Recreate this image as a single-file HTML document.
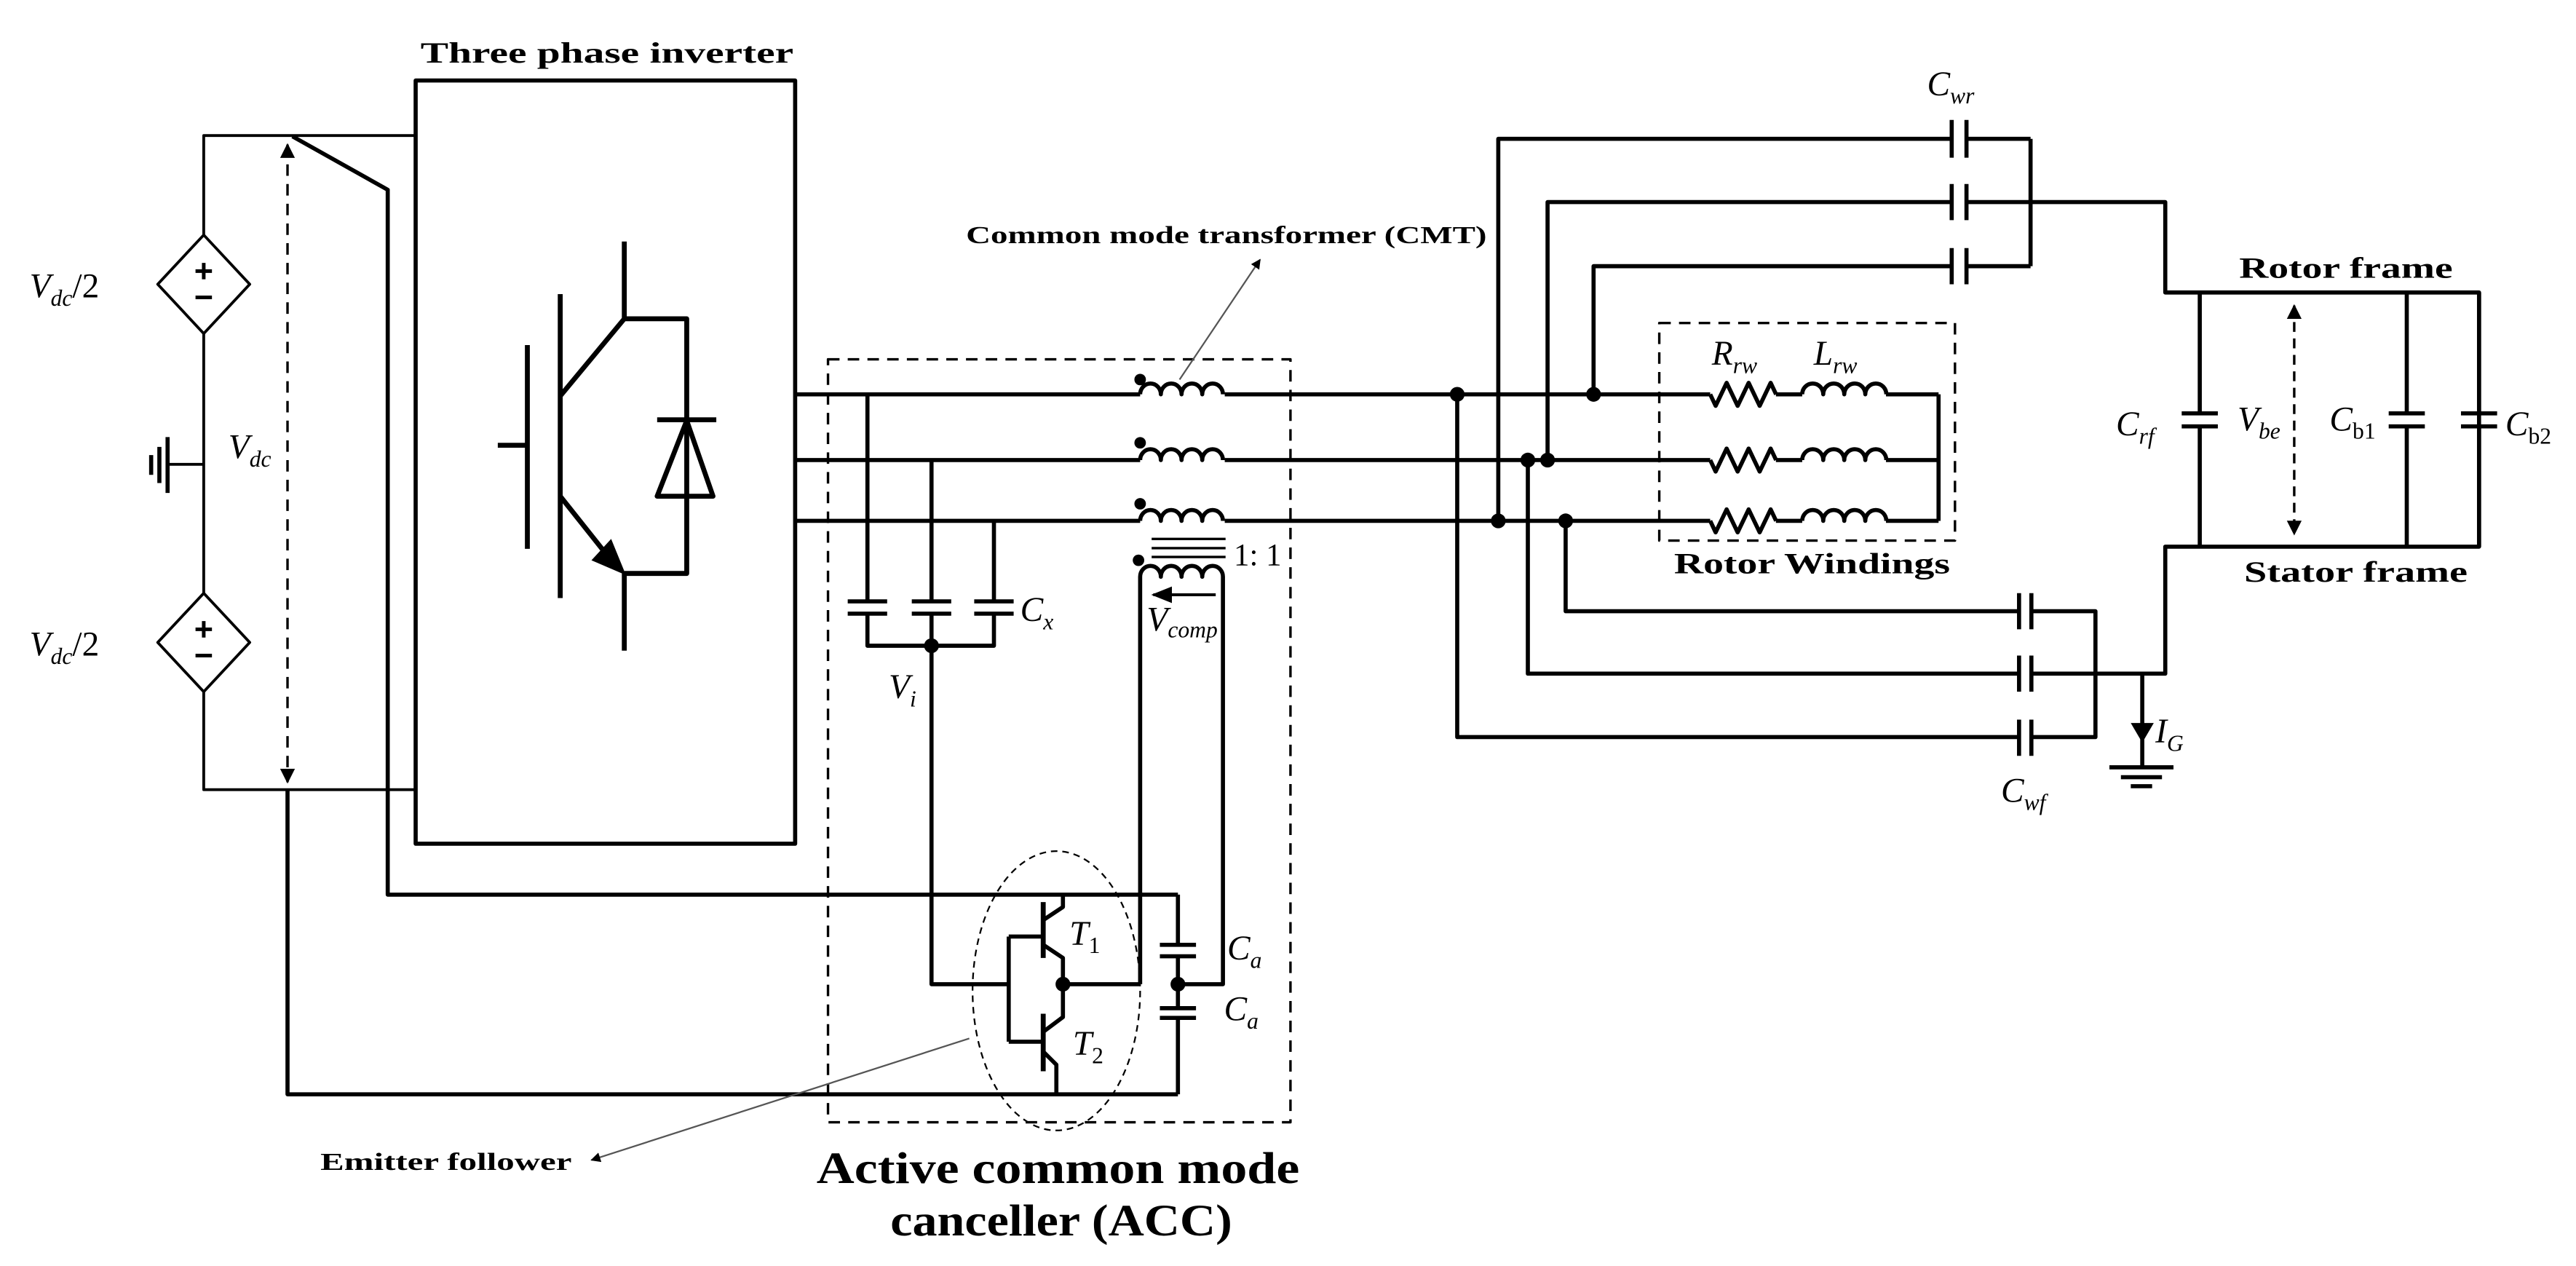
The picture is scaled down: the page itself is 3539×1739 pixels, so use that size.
<!DOCTYPE html>
<html><head><meta charset="utf-8"><style>
html,body{margin:0;padding:0;background:#fff;}
svg{display:block;}
text{font-family:"Liberation Serif",serif;fill:#000;}
.m{font-style:italic;font-size:21px;}
.s{font-size:14px;}
.b{font-weight:bold;}
</style></head><body>
<svg width="3539" height="1739" viewBox="0 0 1568 770.5" xmlns="http://www.w3.org/2000/svg">
<defs>
<marker id="ah" viewBox="0 0 10 10" refX="9" refY="5" markerWidth="6" markerHeight="6" orient="auto-start-reverse"><path d="M0,0 L10,5 L0,10 z" fill="#000"/></marker>
<marker id="ah2" viewBox="0 0 10 10" refX="9" refY="5" markerWidth="7" markerHeight="7" orient="auto"><path d="M0,1 L10,5 L0,9 z" fill="#000"/></marker>
</defs>
<g fill="none" stroke="#000" stroke-width="2.5" stroke-linejoin="round">
<path stroke-width="1.7" d="M253,82.5 H124 V143 M124,203 V361 M124,421 V480.6 H253"/>
<path stroke-width="1.7" d="M124,143 L152,173 L124,203 L96,173 Z M124,361 L152,391 L124,421 L96,391 Z"/>
<path stroke-width="1.7" d="M102,282.6 H124"/>
<path stroke-width="2.5" d="M102,266 V300 M97,272 V294 M92,277 V289"/>
<path stroke-width="2.2" d="M124,160 V170 M119,165 H129 M119,181 H129 M124,378 V388 M119,383 H129 M119,399 H129"/>
<path stroke-width="1.5" stroke-dasharray="7,5" d="M175,88 V476" marker-start="url(#ah)" marker-end="url(#ah)"/>
<rect x="253" y="49" width="231" height="464.5" stroke-width="2.5"/>
<path d="M178,83 L236,115.5 V544.5 H717"/>
<path d="M175,480.6 V666 H717"/>
<path stroke-width="3" d="M303,271 H321 M321,210 V334 M341,179 V364 M341,241 L380,194 V147 M380,194 H418 V349 H380 M341,302 L372,341 M380,349 V396 M400,255.5 H436"/>
<path stroke-width="3" d="M400,302 H434 L418,256 Z"/>
<path fill="#000" stroke="none" d="M381,350 L360,341 L372,328 Z"/>
<!-- phases -->
<path d="M484,240 H694 M745.5,240 H1041 M484,280 H694 M745.5,280 H1041 M484,317 H694 M745.5,317 H1041 M1081,240 H1097 M1081,280 H1097 M1081,317 H1097 M1148,240 H1180 M1148,280 H1180 M1148,317 H1180 M1180,240 V317"/>
<path d="M694,240 a6.3,6.6 0 0 1 12.6,0 a6.3,6.6 0 0 1 12.6,0 a6.3,6.6 0 0 1 12.6,0 a6.3,6.6 0 0 1 12.6,0 M694,280 a6.3,6.6 0 0 1 12.6,0 a6.3,6.6 0 0 1 12.6,0 a6.3,6.6 0 0 1 12.6,0 a6.3,6.6 0 0 1 12.6,0 M694,317 a6.3,6.6 0 0 1 12.6,0 a6.3,6.6 0 0 1 12.6,0 a6.3,6.6 0 0 1 12.6,0 a6.3,6.6 0 0 1 12.6,0"/>
<path stroke-width="1.5" d="M701,328 H746 M701,333.6 H746 M701,339 H746"/>
<path d="M694,599 V351 a6.3,6.6 0 0 1 12.6,0 a6.3,6.6 0 0 1 12.6,0 a6.3,6.6 0 0 1 12.6,0 a6.3,6.6 0 0 1 12.6,0 V599 H717"/>
<path stroke-width="1.8" d="M740,362 H702" marker-end="url(#ah2)"/>
<path d="M528,240 V366 M567,280 V366 M605,317 V366 M528,373.5 V393 H605 V373.5 M567,373.5 V599 H614"/>
<path d="M516,366 H540 M516,373.5 H540 M555,366 H579 M555,373.5 H579 M593,366 H617 M593,373.5 H617"/>
<path d="M614,570 V634 M614,570 H635 M614,634 H635 M647,544.5 V552 L635,560 M635,575 L647,583 V619 L635,628 M635,640 L643,648 V666 M647,599 H694"/>
<path stroke-width="3" d="M635,549 V583 M635,617 V652"/>
<path d="M717,544.5 V575 M717,582 V613.6 M717,619.5 V666 M706,575 H728 M706,582 H728 M706,613.6 H728 M706,619.5 H728"/>
<ellipse cx="643" cy="603" rx="51" ry="85" stroke-width="1" stroke-dasharray="4,3"/>
<rect x="504" y="218.7" width="281.5" height="464.3" stroke-width="1.5" stroke-dasharray="7,5"/>
<path stroke="#555" stroke-width="1" d="M718,231 L767,158" marker-end="url(#ah)"/>
<path stroke="#555" stroke-width="1" d="M590,632 L360,706" marker-end="url(#ah)"/>
<path d="M912,317 V84.5 H1188 M1197,84.5 H1236 M942,280 V123 H1188 M1197,123 H1318 V178 H1509 V332.7 H1318 V410 H1236 M970,240 V162 H1188 M1197,162 H1236 M1236,84.5 V162"/>
<path d="M1188,73 V96 M1197,73 V96 M1188,112 V134 M1197,112 V134 M1188,151 V173 M1197,151 V173"/>
<path d="M953,317 V372 H1229 M1236.5,372 H1275.5 V448.6 H1236.5 M930,280 V410 H1229 M887,240 V448.6 H1229"/>
<path d="M1229,361 V383 M1236.5,361 V383 M1229,399 V421 M1236.5,399 V421 M1229,438 V460 M1236.5,438 V460"/>
<path d="M1339,178 V251.6 M1339,259.5 V332.7 M1465,178 V251.6 M1465,259.5 V332.7 M1509,178 V251.6 M1509,259.5 V332.7"/>
<path d="M1328,251.6 H1350 M1328,259.5 H1350 M1454,251.6 H1476 M1454,259.5 H1476 M1498,251.6 H1520 M1498,259.5 H1520"/>
<path stroke-width="1.5" stroke-dasharray="6,4" d="M1396.5,186 V325" marker-start="url(#ah)" marker-end="url(#ah)"/>
<path d="M1304,410 V467"/>
<path fill="#000" stroke="none" d="M1297,440 H1311 L1304,452 Z"/>
<path d="M1284,467 H1323 M1291,473 H1316 M1297,478.5 H1310"/>
<!-- resistors -->
<path d="M1041,240 l3.3,7 l6.7,-14 l6.7,14 l6.7,-14 l6.7,14 l6.7,-14 l3.3,7 M1041,280 l3.3,7 l6.7,-14 l6.7,14 l6.7,-14 l6.7,14 l6.7,-14 l3.3,7 M1041,317 l3.3,7 l6.7,-14 l6.7,14 l6.7,-14 l6.7,14 l6.7,-14 l3.3,7"/>
<path d="M1097,240 a6.4,6.6 0 0 1 12.8,0 a6.4,6.6 0 0 1 12.8,0 a6.4,6.6 0 0 1 12.8,0 a6.4,6.6 0 0 1 12.8,0 M1097,280 a6.4,6.6 0 0 1 12.8,0 a6.4,6.6 0 0 1 12.8,0 a6.4,6.6 0 0 1 12.8,0 a6.4,6.6 0 0 1 12.8,0 M1097,317 a6.4,6.6 0 0 1 12.8,0 a6.4,6.6 0 0 1 12.8,0 a6.4,6.6 0 0 1 12.8,0 a6.4,6.6 0 0 1 12.8,0"/>
<rect x="1010" y="196.6" width="180" height="132.4" stroke-width="1.5" stroke-dasharray="7,5"/>
</g>
<g fill="#000">
<circle cx="567" cy="393" r="4.5"/><circle cx="647" cy="599" r="4.5"/><circle cx="717" cy="599" r="4.5"/>
<circle cx="694" cy="231" r="3.5"/><circle cx="694" cy="269.5" r="3.5"/><circle cx="694" cy="306.6" r="3.5"/><circle cx="693" cy="341" r="3.5"/>
<circle cx="887" cy="240" r="4.5"/><circle cx="970" cy="240" r="4.5"/><circle cx="930" cy="280" r="4.5"/><circle cx="942" cy="280" r="4.5"/><circle cx="912" cy="317" r="4.5"/><circle cx="953" cy="317" r="4.5"/>
</g>
<text class="b" x="256" y="38" font-size="18" textLength="227" lengthAdjust="spacingAndGlyphs">Three phase inverter</text>
<text class="m" x="18" y="181" font-size="23">V<tspan class="s" dy="5" font-size="15">dc</tspan><tspan dy="-5" font-style="normal">/2</tspan></text>
<text class="m" x="18" y="399" font-size="23">V<tspan class="s" dy="5" font-size="15">dc</tspan><tspan dy="-5" font-style="normal">/2</tspan></text>
<text class="m" x="139" y="279" font-size="19">V<tspan class="s" dy="5">dc</tspan></text>
<text class="b" x="588" y="148" font-size="15" textLength="317" lengthAdjust="spacingAndGlyphs">Common mode transformer (CMT)</text>
<text x="751" y="344" font-size="19">1: 1</text>
<text class="m" x="698" y="384" font-size="17">V<tspan class="s" font-size="12" dy="4">comp</tspan></text>
<text class="m" x="621" y="378">C<tspan class="s" dy="5">x</tspan></text>
<text class="m" x="541" y="425">V<tspan class="s" dy="5">i</tspan></text>
<text class="m" x="651" y="575" font-size="20">T<tspan class="s" dy="5" font-style="normal">1</tspan></text>
<text class="m" x="653" y="642" font-size="20">T<tspan class="s" dy="5" font-style="normal">2</tspan></text>
<text class="m" x="747" y="584">C<tspan class="s" dy="5">a</tspan></text>
<text class="m" x="745" y="621">C<tspan class="s" dy="5">a</tspan></text>
<text class="b" x="195" y="712" font-size="15" textLength="153" lengthAdjust="spacingAndGlyphs">Emitter follower</text>
<text class="b" x="497" y="720" font-size="27" textLength="294" lengthAdjust="spacingAndGlyphs">Active common mode</text>
<text class="b" x="542" y="752" font-size="27" textLength="208" lengthAdjust="spacingAndGlyphs">canceller (ACC)</text>
<text class="m" x="1173" y="58" font-size="19">C<tspan class="s" dy="5">wr</tspan></text>
<text class="m" x="1042" y="222" font-size="19">R<tspan class="s" dy="5">rw</tspan></text>
<text class="m" x="1104" y="222" font-size="19">L<tspan class="s" dy="5">rw</tspan></text>
<text class="b" x="1019" y="349" font-size="18" textLength="168" lengthAdjust="spacingAndGlyphs">Rotor Windings</text>
<text class="b" x="1363" y="169" font-size="18" textLength="130" lengthAdjust="spacingAndGlyphs">Rotor frame</text>
<text class="b" x="1366" y="354" font-size="18" textLength="136" lengthAdjust="spacingAndGlyphs">Stator frame</text>
<text class="m" x="1288" y="265" font-size="19">C<tspan class="s" dy="5">rf</tspan></text>
<text class="m" x="1362" y="262" font-size="19">V<tspan class="s" dy="5">be</tspan></text>
<text class="m" x="1418" y="262" font-size="19">C<tspan class="s" dy="5" font-style="normal">b1</tspan></text>
<text class="m" x="1525" y="265" font-size="19">C<tspan class="s" dy="5" font-style="normal">b2</tspan></text>
<text class="m" x="1312" y="452" font-size="19">I<tspan class="s" dy="5">G</tspan></text>
<text class="m" x="1218" y="488" font-size="19">C<tspan class="s" dy="5">wf</tspan></text>
</svg>
</body></html>
